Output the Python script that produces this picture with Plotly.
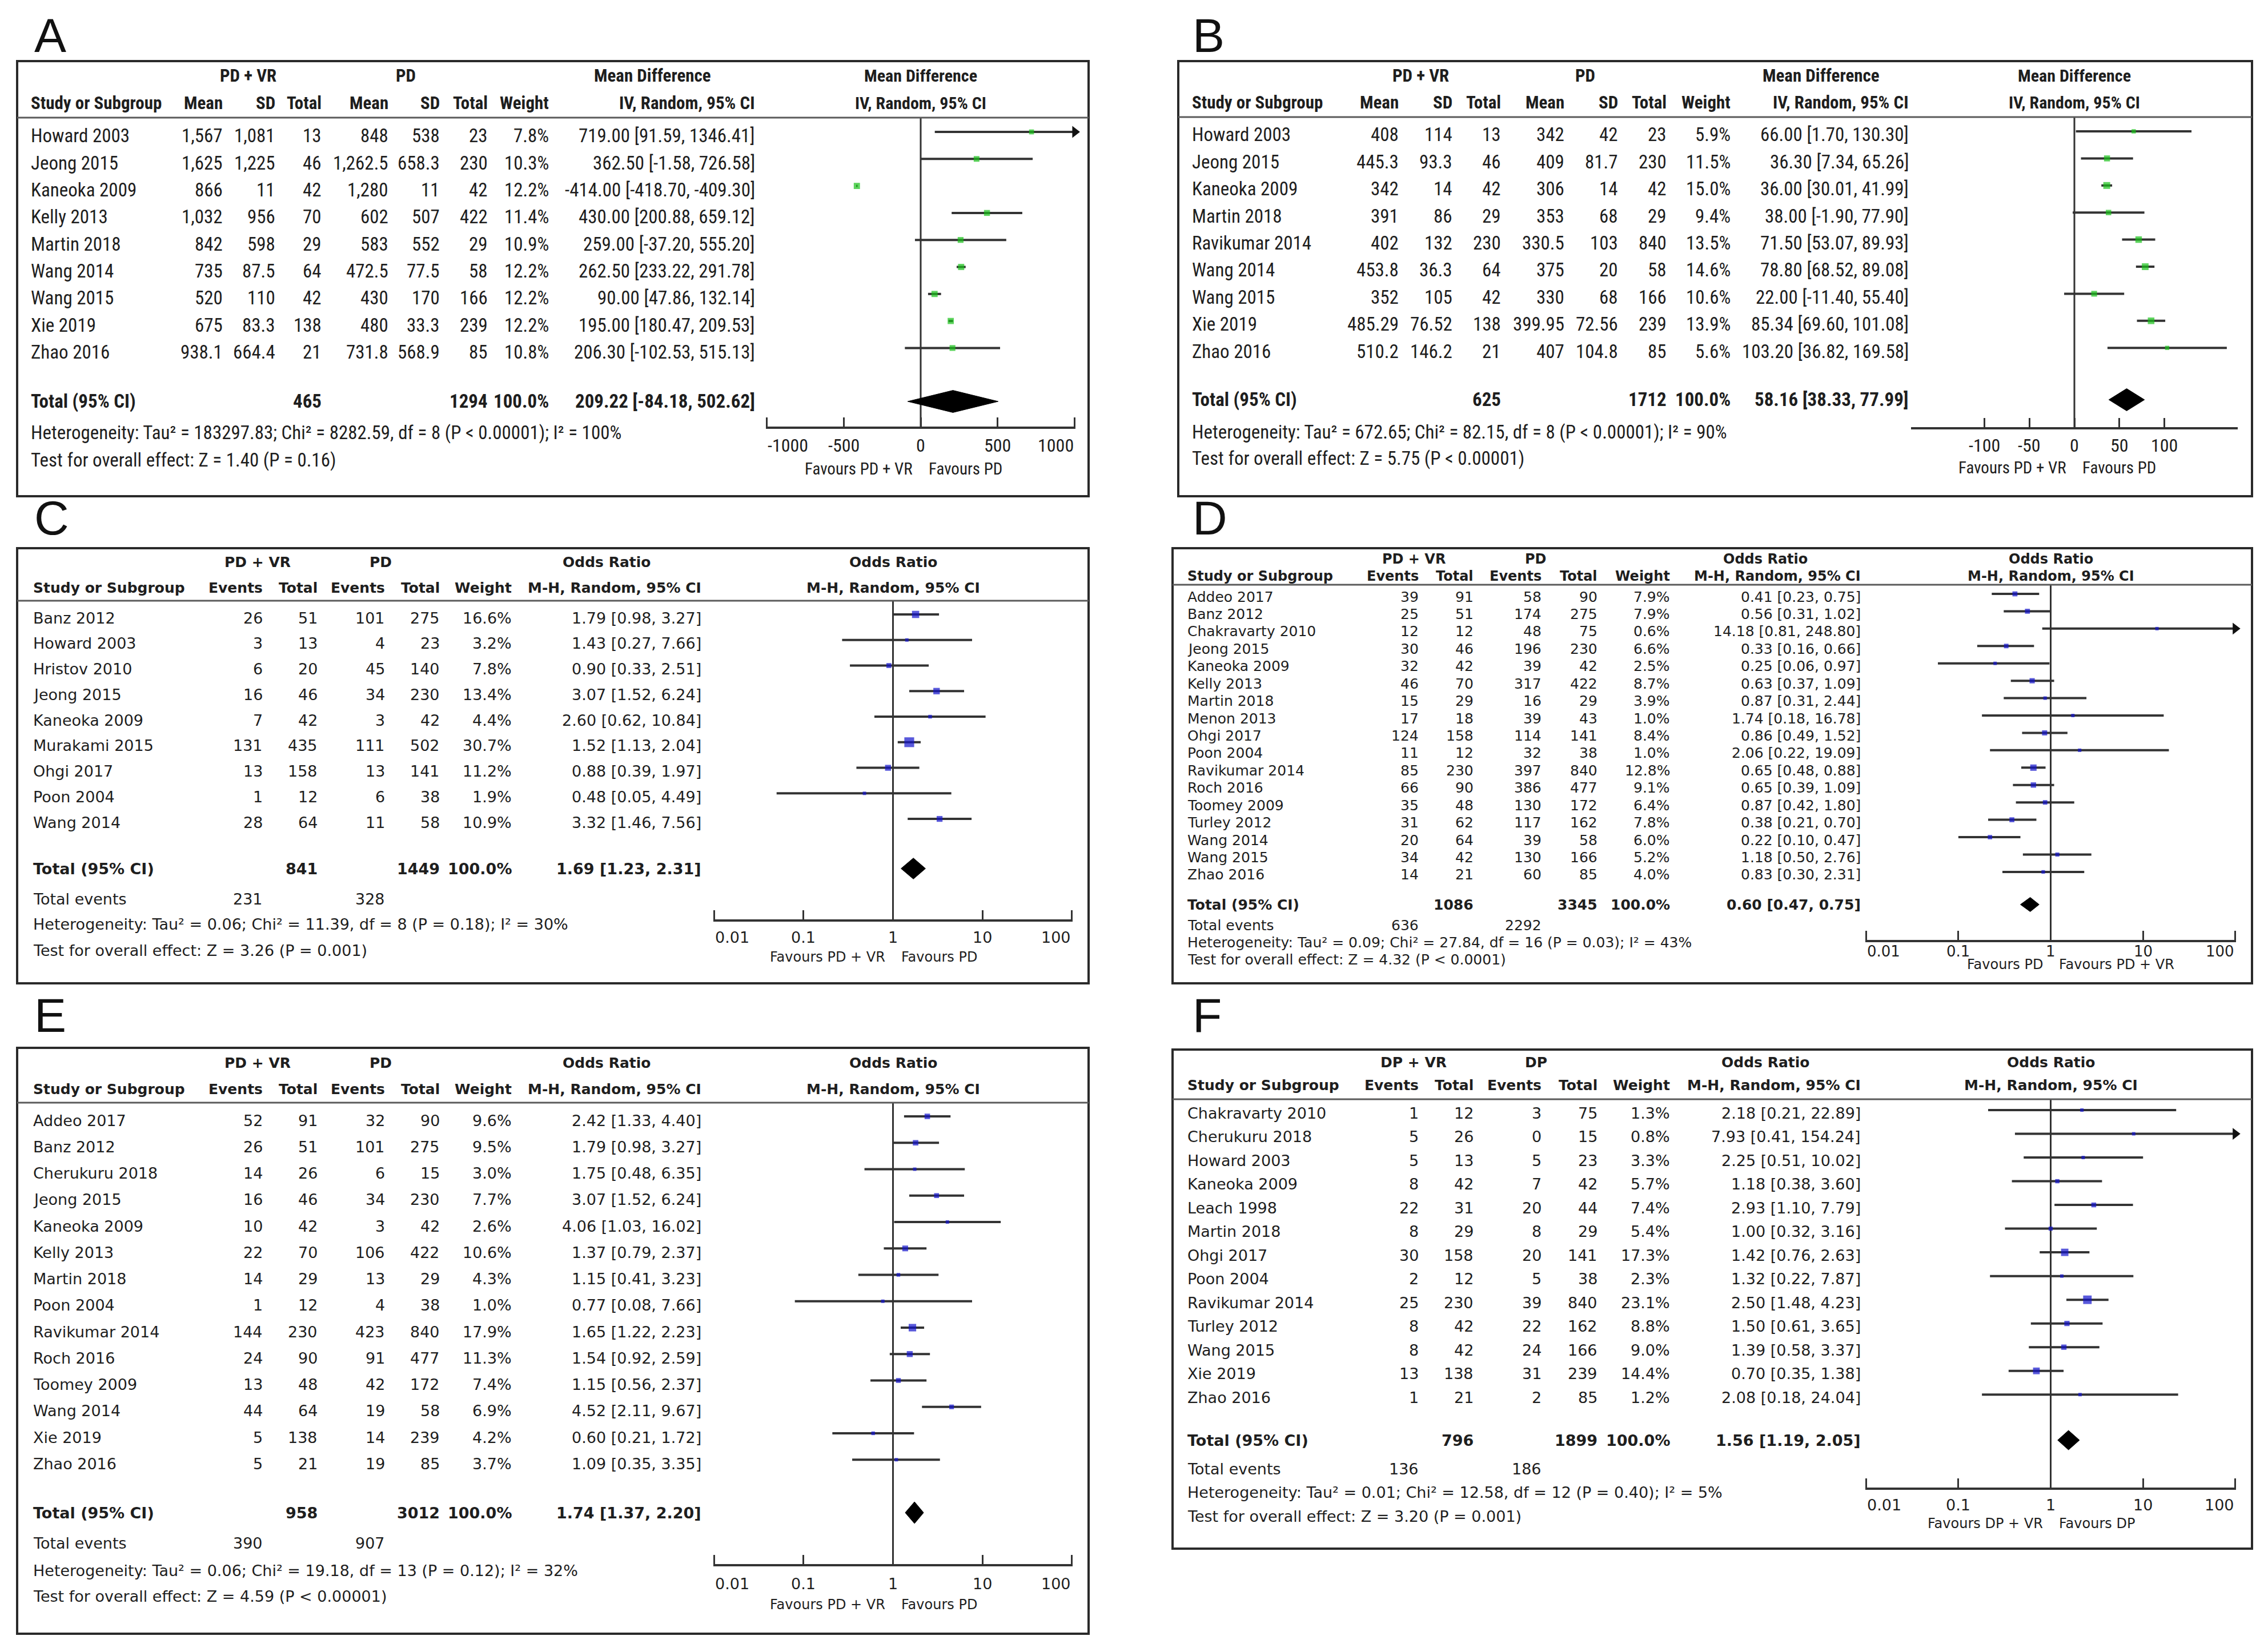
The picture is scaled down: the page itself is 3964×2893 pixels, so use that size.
import math
import plotly.graph_objects as go

W, H = 3964, 2893

# ======================= DATA =======================
# ---- Panel A : Mean Difference, IV random ----
A_study = ["Howard 2003", "Jeong 2015", "Kaneoka 2009", "Kelly 2013", "Martin 2018",
           "Wang 2014", "Wang 2015", "Xie 2019", "Zhao 2016"]
A_exp_mean = [1567, 1625, 866, 1032, 842, 735, 520, 675, 938.1]
A_exp_sd = [1081, 1225, 11, 956, 598, 87.5, 110, 83.3, 664.4]
A_exp_n = [13, 46, 42, 70, 29, 64, 42, 138, 21]
A_ctl_mean = [848, 1262.5, 1280, 602, 583, 472.5, 430, 480, 731.8]
A_ctl_sd = [538, 658.3, 11, 507, 552, 77.5, 170, 33.3, 568.9]
A_ctl_n = [23, 230, 42, 422, 29, 58, 166, 239, 85]
A_weight = [7.8, 10.3, 12.2, 11.4, 10.9, 12.2, 12.2, 12.2, 10.8]
A_est = [719.00, 362.50, -414.00, 430.00, 259.00, 262.50, 90.00, 195.00, 206.30]
A_lo = [91.59, -1.58, -418.70, 200.88, -37.20, 233.22, 47.86, 180.47, -102.53]
A_hi = [1346.41, 726.58, -409.30, 659.12, 555.20, 291.78, 132.14, 209.53, 515.13]
A_total = [209.22, -84.18, 502.62]
A_het = "Heterogeneity: Tau² = 183297.83; Chi² = 8282.59, df = 8 (P < 0.00001); I² = 100%"
A_test = "Test for overall effect: Z = 1.40 (P = 0.16)"
A_groups = ["PD + VR", "PD"]
A_favours = ["Favours PD + VR", "Favours PD"]
A_xrange = [-1000, 1000]
A_ticks = [-1000, -500, 0, 500, 1000]

# ---- Panel B : Mean Difference, IV random ----
B_study = ["Howard 2003", "Jeong 2015", "Kaneoka 2009", "Martin 2018", "Ravikumar 2014",
           "Wang 2014", "Wang 2015", "Xie 2019", "Zhao 2016"]
B_exp_mean = [408, 445.3, 342, 391, 402, 453.8, 352, 485.29, 510.2]
B_exp_sd = [114, 93.3, 14, 86, 132, 36.3, 105, 76.52, 146.2]
B_exp_n = [13, 46, 42, 29, 230, 64, 42, 138, 21]
B_ctl_mean = [342, 409, 306, 353, 330.5, 375, 330, 399.95, 407]
B_ctl_sd = [42, 81.7, 14, 68, 103, 20, 68, 72.56, 104.8]
B_ctl_n = [23, 230, 42, 29, 840, 58, 166, 239, 85]
B_weight = [5.9, 11.5, 15.0, 9.4, 13.5, 14.6, 10.6, 13.9, 5.6]
B_est = [66.00, 36.30, 36.00, 38.00, 71.50, 78.80, 22.00, 85.34, 103.20]
B_lo = [1.70, 7.34, 30.01, -1.90, 53.07, 68.52, -11.40, 69.60, 36.82]
B_hi = [130.30, 65.26, 41.99, 77.90, 89.93, 89.08, 55.40, 101.08, 169.58]
B_total = [58.16, 38.33, 77.99]
B_het = "Heterogeneity: Tau² = 672.65; Chi² = 82.15, df = 8 (P < 0.00001); I² = 90%"
B_test = "Test for overall effect: Z = 5.75 (P < 0.00001)"
B_groups = ["PD + VR", "PD"]
B_favours = ["Favours PD + VR", "Favours PD"]
B_xrange = [-181, 181]
B_ticks = [-100, -50, 0, 50, 100]

# ---- Panel C : Odds Ratio, M-H random ----
C_study = ["Banz 2012", "Howard 2003", "Hristov 2010", "Jeong 2015", "Kaneoka 2009",
           "Murakami 2015", "Ohgi 2017", "Poon 2004", "Wang 2014"]
C_exp_ev = [26, 3, 6, 16, 7, 131, 13, 1, 28]
C_exp_n = [51, 13, 20, 46, 42, 435, 158, 12, 64]
C_ctl_ev = [101, 4, 45, 34, 3, 111, 13, 6, 11]
C_ctl_n = [275, 23, 140, 230, 42, 502, 141, 38, 58]
C_weight = [16.6, 3.2, 7.8, 13.4, 4.4, 30.7, 11.2, 1.9, 10.9]
C_est = [1.79, 1.43, 0.90, 3.07, 2.60, 1.52, 0.88, 0.48, 3.32]
C_lo = [0.98, 0.27, 0.33, 1.52, 0.62, 1.13, 0.39, 0.05, 1.46]
C_hi = [3.27, 7.66, 2.51, 6.24, 10.84, 2.04, 1.97, 4.49, 7.56]
C_total = [1.69, 1.23, 2.31]
C_het = "Heterogeneity: Tau² = 0.06; Chi² = 11.39, df = 8 (P = 0.18); I² = 30%"
C_test = "Test for overall effect: Z = 3.26 (P = 0.001)"
C_groups = ["PD + VR", "PD"]
C_favours = ["Favours PD + VR", "Favours PD"]

# ---- Panel D : Odds Ratio, M-H random ----
D_study = ["Addeo 2017", "Banz 2012", "Chakravarty 2010", "Jeong 2015", "Kaneoka 2009",
           "Kelly 2013", "Martin 2018", "Menon 2013", "Ohgi 2017", "Poon 2004",
           "Ravikumar 2014", "Roch 2016", "Toomey 2009", "Turley 2012", "Wang 2014",
           "Wang 2015", "Zhao 2016"]
D_exp_ev = [39, 25, 12, 30, 32, 46, 15, 17, 124, 11, 85, 66, 35, 31, 20, 34, 14]
D_exp_n = [91, 51, 12, 46, 42, 70, 29, 18, 158, 12, 230, 90, 48, 62, 64, 42, 21]
D_ctl_ev = [58, 174, 48, 196, 39, 317, 16, 39, 114, 32, 397, 386, 130, 117, 39, 130, 60]
D_ctl_n = [90, 275, 75, 230, 42, 422, 29, 43, 141, 38, 840, 477, 172, 162, 58, 166, 85]
D_weight = [7.9, 7.9, 0.6, 6.6, 2.5, 8.7, 3.9, 1.0, 8.4, 1.0, 12.8, 9.1, 6.4, 7.8, 6.0, 5.2, 4.0]
D_est = [0.41, 0.56, 14.18, 0.33, 0.25, 0.63, 0.87, 1.74, 0.86, 2.06, 0.65, 0.65, 0.87,
         0.38, 0.22, 1.18, 0.83]
D_lo = [0.23, 0.31, 0.81, 0.16, 0.06, 0.37, 0.31, 0.18, 0.49, 0.22, 0.48, 0.39, 0.42,
        0.21, 0.10, 0.50, 0.30]
D_hi = [0.75, 1.02, 248.80, 0.66, 0.97, 1.09, 2.44, 16.78, 1.52, 19.09, 0.88, 1.09, 1.80,
        0.70, 0.47, 2.76, 2.31]
D_total = [0.60, 0.47, 0.75]
D_het = "Heterogeneity: Tau² = 0.09; Chi² = 27.84, df = 16 (P = 0.03); I² = 43%"
D_test = "Test for overall effect: Z = 4.32 (P < 0.0001)"
D_groups = ["PD + VR", "PD"]
D_favours = ["Favours PD", "Favours PD + VR"]

# ---- Panel E : Odds Ratio, M-H random ----
E_study = ["Addeo 2017", "Banz 2012", "Cherukuru 2018", "Jeong 2015", "Kaneoka 2009",
           "Kelly 2013", "Martin 2018", "Poon 2004", "Ravikumar 2014", "Roch 2016",
           "Toomey 2009", "Wang 2014", "Xie 2019", "Zhao 2016"]
E_exp_ev = [52, 26, 14, 16, 10, 22, 14, 1, 144, 24, 13, 44, 5, 5]
E_exp_n = [91, 51, 26, 46, 42, 70, 29, 12, 230, 90, 48, 64, 138, 21]
E_ctl_ev = [32, 101, 6, 34, 3, 106, 13, 4, 423, 91, 42, 19, 14, 19]
E_ctl_n = [90, 275, 15, 230, 42, 422, 29, 38, 840, 477, 172, 58, 239, 85]
E_weight = [9.6, 9.5, 3.0, 7.7, 2.6, 10.6, 4.3, 1.0, 17.9, 11.3, 7.4, 6.9, 4.2, 3.7]
E_est = [2.42, 1.79, 1.75, 3.07, 4.06, 1.37, 1.15, 0.77, 1.65, 1.54, 1.15, 4.52, 0.60, 1.09]
E_lo = [1.33, 0.98, 0.48, 1.52, 1.03, 0.79, 0.41, 0.08, 1.22, 0.92, 0.56, 2.11, 0.21, 0.35]
E_hi = [4.40, 3.27, 6.35, 6.24, 16.02, 2.37, 3.23, 7.66, 2.23, 2.59, 2.37, 9.67, 1.72, 3.35]
E_total = [1.74, 1.37, 2.20]
E_het = "Heterogeneity: Tau² = 0.06; Chi² = 19.18, df = 13 (P = 0.12); I² = 32%"
E_test = "Test for overall effect: Z = 4.59 (P < 0.00001)"
E_groups = ["PD + VR", "PD"]
E_favours = ["Favours PD + VR", "Favours PD"]

# ---- Panel F : Odds Ratio, M-H random ----
F_study = ["Chakravarty 2010", "Cherukuru 2018", "Howard 2003", "Kaneoka 2009", "Leach 1998",
           "Martin 2018", "Ohgi 2017", "Poon 2004", "Ravikumar 2014", "Turley 2012",
           "Wang 2015", "Xie 2019", "Zhao 2016"]
F_exp_ev = [1, 5, 5, 8, 22, 8, 30, 2, 25, 8, 8, 13, 1]
F_exp_n = [12, 26, 13, 42, 31, 29, 158, 12, 230, 42, 42, 138, 21]
F_ctl_ev = [3, 0, 5, 7, 20, 8, 20, 5, 39, 22, 24, 31, 2]
F_ctl_n = [75, 15, 23, 42, 44, 29, 141, 38, 840, 162, 166, 239, 85]
F_weight = [1.3, 0.8, 3.3, 5.7, 7.4, 5.4, 17.3, 2.3, 23.1, 8.8, 9.0, 14.4, 1.2]
F_est = [2.18, 7.93, 2.25, 1.18, 2.93, 1.00, 1.42, 1.32, 2.50, 1.50, 1.39, 0.70, 2.08]
F_lo = [0.21, 0.41, 0.51, 0.38, 1.10, 0.32, 0.76, 0.22, 1.48, 0.61, 0.58, 0.35, 0.18]
F_hi = [22.89, 154.24, 10.02, 3.60, 7.79, 3.16, 2.63, 7.87, 4.23, 3.65, 3.37, 1.38, 24.04]
F_total = [1.56, 1.19, 2.05]
F_het = "Heterogeneity: Tau² = 0.01; Chi² = 12.58, df = 12 (P = 0.40); I² = 5%"
F_test = "Test for overall effect: Z = 3.20 (P = 0.001)"
F_groups = ["DP + VR", "DP"]
F_favours = ["Favours DP + VR", "Favours DP"]

OR_xrange = [0.01, 100]
OR_ticks = [0.01, 0.1, 1, 10, 100]

MD_title, MD_method = "Mean Difference", "IV, Random, 95% CI"
OR_title, OR_method = "Odds Ratio", "M-H, Random, 95% CI"
MD_heads = ["Mean", "SD", "Total", "Mean", "SD", "Total", "Weight"]
OR_heads = ["Events", "Total", "Events", "Total", "Weight"]

# ======================= STYLE / GEOMETRY =======================
TXT = "#1e1e1e"
LINE = "#333333"
FRAME = "#2a2a2a"
HLINE = "#5a5a5a"
GREEN = "#19c219"
BLUE = "#1212cc"
COND = "Noto Sans Condensed, Roboto Condensed, Liberation Sans Narrow, Liberation Sans, Arial, sans-serif"
WIDE = "DejaVu Sans, Verdana, sans-serif"
LABEL_FONT = "Liberation Sans, Arial, sans-serif"

ST_AB = dict(tfam=COND, tsz=33, hsz=31, psz=30, ticksz=32, favsz=29, k=3.1, kmin=7)
ST_CE = dict(tfam=WIDE, tsz=27, hsz=25, psz=25, ticksz=27, favsz=24, k=3.1, kmin=6)
ST_D = dict(tfam=WIDE, tsz=25, hsz=24, psz=24, ticksz=26, favsz=24, k=3.1, kmin=6)
ST_F = dict(tfam=WIDE, tsz=27, hsz=25, psz=25, ticksz=27, favsz=24, k=3.1, kmin=6)

G_A = dict(box=(30, 107, 1906, 869), label=(58, 62), hdr1=133, hdr2=181, hline=206,
           row0=238, dy=47.3, study_x=52, cols=[392, 484, 565, 682, 772, 856, 963, 1324],
           grp=[434, 710], est_hdr=1142, axis_x=(1341, 1883), axis_y=749, tick_y=780,
           total=703, events=None, het=758, test=806, fav=821, mk_shift=7)
G_B = dict(box=(2063, 107, 3943, 869), label=(2086, 62), hdr1=133, hdr2=180, hline=205,
           row0=236, dy=47.4, study_x=2085, cols=[2451, 2545, 2630, 2741, 2835, 2920, 3032, 3344],
           grp=[2487, 2775], est_hdr=3188, axis_x=(3346, 3918), axis_y=750, tick_y=780,
           total=700, events=None, het=757, test=803, fav=819, mk_shift=6)
G_C = dict(box=(30, 960, 1906, 1722), label=(58, 907), hdr1=985, hdr2=1029, hline=1052,
           row0=1082, dy=44.76, study_x=56, cols=[462, 558, 676, 772, 898, 1230],
           grp=[451, 666], est_hdr=1062, axis_x=(1249, 1878), axis_y=1612, tick_y=1641,
           total=1521, events=1574, het=1618, test=1664, fav=1676, mk_shift=6)
G_D = dict(box=(2053, 960, 3943, 1722), label=(2086, 907), hdr1=979, hdr2=1009, hline=1024,
           row0=1045, dy=30.43, study_x=2077, cols=[2486, 2582, 2701, 2799, 2926, 3260],
           grp=[2475, 2689], est_hdr=3091, axis_x=(3266, 3915), axis_y=1648, tick_y=1666,
           total=1584, events=1620, het=1650, test=1680, fav=1689, mk_shift=5)
G_E = dict(box=(30, 1835, 1906, 2861), label=(58, 1778), hdr1=1861, hdr2=1907, hline=1931,
           row0=1962, dy=46.25, study_x=56, cols=[462, 558, 676, 772, 898, 1230],
           grp=[451, 666], est_hdr=1062, axis_x=(1249, 1878), axis_y=2741, tick_y=2773,
           total=2649, events=2702, het=2750, test=2795, fav=2810, mk_shift=7)
G_F = dict(box=(2053, 1838, 3943, 2712), label=(2086, 1778), hdr1=1860, hdr2=1900, hline=1925,
           row0=1949, dy=41.52, study_x=2077, cols=[2486, 2582, 2701, 2799, 2926, 3260],
           grp=[2475, 2689], est_hdr=3091, axis_x=(3266, 3915), axis_y=2607, tick_y=2635,
           total=2522, events=2572, het=2613, test=2655, fav=2668, mk_shift=5)

panels = [
    dict(name="A", kind="md", study=A_study,
         cols=[A_exp_mean, A_exp_sd, A_exp_n, A_ctl_mean, A_ctl_sd, A_ctl_n],
         weight=A_weight, est=A_est, lo=A_lo, hi=A_hi, total=A_total, het=A_het, test=A_test,
         groups=A_groups, favours=A_favours, xrange=A_xrange, ticks=A_ticks, log=False,
         color=GREEN, geom=G_A, style=ST_AB),
    dict(name="B", kind="md", study=B_study,
         cols=[B_exp_mean, B_exp_sd, B_exp_n, B_ctl_mean, B_ctl_sd, B_ctl_n],
         weight=B_weight, est=B_est, lo=B_lo, hi=B_hi, total=B_total, het=B_het, test=B_test,
         groups=B_groups, favours=B_favours, xrange=B_xrange, ticks=B_ticks, log=False,
         color=GREEN, geom=G_B, style=ST_AB),
    dict(name="C", kind="or", study=C_study, cols=[C_exp_ev, C_exp_n, C_ctl_ev, C_ctl_n],
         weight=C_weight, est=C_est, lo=C_lo, hi=C_hi, total=C_total, het=C_het, test=C_test,
         groups=C_groups, favours=C_favours, xrange=OR_xrange, ticks=OR_ticks, log=True,
         color=BLUE, geom=G_C, style=ST_CE),
    dict(name="D", kind="or", study=D_study, cols=[D_exp_ev, D_exp_n, D_ctl_ev, D_ctl_n],
         weight=D_weight, est=D_est, lo=D_lo, hi=D_hi, total=D_total, het=D_het, test=D_test,
         groups=D_groups, favours=D_favours, xrange=OR_xrange, ticks=OR_ticks, log=True,
         color=BLUE, geom=G_D, style=ST_D),
    dict(name="E", kind="or", study=E_study, cols=[E_exp_ev, E_exp_n, E_ctl_ev, E_ctl_n],
         weight=E_weight, est=E_est, lo=E_lo, hi=E_hi, total=E_total, het=E_het, test=E_test,
         groups=E_groups, favours=E_favours, xrange=OR_xrange, ticks=OR_ticks, log=True,
         color=BLUE, geom=G_E, style=ST_CE),
    dict(name="F", kind="or", study=F_study, cols=[F_exp_ev, F_exp_n, F_ctl_ev, F_ctl_n],
         weight=F_weight, est=F_est, lo=F_lo, hi=F_hi, total=F_total, het=F_het, test=F_test,
         groups=F_groups, favours=F_favours, xrange=OR_xrange, ticks=OR_ticks, log=True,
         color=BLUE, geom=G_F, style=ST_F),
]


def X(px):
    return px / W


def Y(py):
    return 1 - py / H


def num(v):
    return f"{v:,}"


def ci(e, l, h):
    return f"{e:.2f} [{l:.2f}, {h:.2f}]"


fig = go.Figure()
ann, shapes, axes = [], [], {}


def T(text, x, y, xref, yref, anchor, family, size, bold=False, xshift=0):
    ann.append(dict(text=f"<b>{text}</b>" if bold else text, x=x, y=y, xref=xref, yref=yref,
                    xanchor=anchor, yanchor="middle", showarrow=False, xshift=xshift,
                    font=dict(family=family, size=size, color=TXT)))


for k, P in enumerate(panels, start=1):
    G, S = P["geom"], P["style"]
    xa, ya = f"x{k}", f"y{k}"
    xkey = "xaxis" if k == 1 else f"xaxis{k}"
    ykey = "yaxis" if k == 1 else f"yaxis{k}"
    bx0, by0, bx1, by1 = G["box"]
    row0, dy = G["row0"], G["dy"]

    def r(py, row0=row0, dy=dy):
        return (py - row0) / dy

    n = len(P["study"])
    log = P["log"]
    xmin, xmax = P["xrange"]
    nullv = 1 if log else 0
    tfam, tsz, hsz = S["tfam"], S["tsz"], S["hsz"]

    # ---- axes ----
    axes[ykey] = dict(domain=[Y(by1), Y(by0)], range=[r(by1), r(by0)], visible=False,
                      anchor=xa, fixedrange=True)
    rng = [math.log10(xmin), math.log10(xmax)] if log else [xmin, xmax]
    pad = (rng[1] - rng[0]) * 0.002
    axes[xkey] = dict(domain=[X(G["axis_x"][0]), X(G["axis_x"][1])],
                      range=[rng[0] - pad, rng[1] + pad], type="log" if log else "linear",
                      anchor="free", position=Y(G["axis_y"]), showline=True, linecolor=LINE,
                      linewidth=4, ticks="inside", ticklen=16, tickwidth=3, tickcolor=LINE,
                      tickmode="array", tickvals=P["ticks"], showticklabels=False,
                      showgrid=False, zeroline=False, fixedrange=True)
    # tick labels, placed on the axis scale (ends aligned inward as in RevMan)
    for t in P["ticks"]:
        xv = math.log10(t) if log else t
        anc = "left" if t == xmin else ("right" if t == xmax else "center")
        T(f"{t:g}", xv, Y(G["tick_y"]), xa, "paper", anc, tfam, S["ticksz"])

    # ---- frame, header rule, panel letter ----
    shapes.append(dict(type="rect", xref="paper", yref="paper", x0=X(bx0), x1=X(bx1),
                       y0=Y(by1), y1=Y(by0), line=dict(color=FRAME, width=4)))
    shapes.append(dict(type="line", xref="paper", yref="paper", x0=X(bx0), x1=X(bx1),
                       y0=Y(G["hline"]), y1=Y(G["hline"]), line=dict(color=HLINE, width=3)))
    ann.append(dict(text=P["name"], x=X(G["label"][0]), y=Y(G["label"][1]), xref="paper",
                    yref="paper", xanchor="left", yanchor="middle", showarrow=False,
                    font=dict(family=LABEL_FONT, size=84, color="#111111")))

    # ---- table headers ----
    title, method = (MD_title, MD_method) if P["kind"] == "md" else (OR_title, OR_method)
    heads = MD_heads if P["kind"] == "md" else OR_heads
    cx = G["cols"]
    T(P["groups"][0], X(G["grp"][0]), r(G["hdr1"]), "paper", ya, "center", tfam, hsz, True)
    T(P["groups"][1], X(G["grp"][1]), r(G["hdr1"]), "paper", ya, "center", tfam, hsz, True)
    T(title, X(G["est_hdr"]), r(G["hdr1"]), "paper", ya, "center", tfam, hsz, True)
    T("Study or Subgroup", X(G["study_x"]), r(G["hdr2"]), "paper", ya, "left", tfam, hsz, True)
    for lab, x in zip(heads + [method], cx):
        T(lab, X(x), r(G["hdr2"]), "paper", ya, "right", tfam, hsz, True)
    # plot-side headers
    pc = X((G["axis_x"][0] + G["axis_x"][1]) / 2)
    T(title, pc, r(G["hdr1"]), "paper", ya, "center", tfam, S["psz"], True)
    T(method, pc, r(G["hdr2"]), "paper", ya, "center", tfam, S["psz"], True)

    # ---- study rows ----
    for i in range(n):
        T(P["study"][i], X(G["study_x"]), i, "paper", ya, "left", tfam, tsz)
        vals = [num(c[i]) for c in P["cols"]]
        vals += [f"{P['weight'][i]:.1f}%", ci(P["est"][i], P["lo"][i], P["hi"][i])]
        for s, x in zip(vals, cx):
            T(s, X(x), i, "paper", ya, "right", tfam, tsz)

    # ---- total rows ----
    rt = r(G["total"])
    T("Total (95% CI)", X(G["study_x"]), rt, "paper", ya, "left", tfam, tsz, True)
    if P["kind"] == "md":
        T(str(sum(P["cols"][2])), X(cx[2]), rt, "paper", ya, "right", tfam, tsz, True)
        T(str(sum(P["cols"][5])), X(cx[5]), rt, "paper", ya, "right", tfam, tsz, True)
    else:
        T(str(sum(P["cols"][1])), X(cx[1]), rt, "paper", ya, "right", tfam, tsz, True)
        T(str(sum(P["cols"][3])), X(cx[3]), rt, "paper", ya, "right", tfam, tsz, True)
        re_ = r(G["events"])
        T("Total events", X(G["study_x"]), re_, "paper", ya, "left", tfam, tsz)
        T(str(sum(P["cols"][0])), X(cx[0]), re_, "paper", ya, "right", tfam, tsz)
        T(str(sum(P["cols"][2])), X(cx[2]), re_, "paper", ya, "right", tfam, tsz)
    T("100.0%", X(cx[-2]), rt, "paper", ya, "right", tfam, tsz, True)
    T(ci(*P["total"]), X(cx[-1]), rt, "paper", ya, "right", tfam, tsz, True)
    T(P["het"], X(G["study_x"]), r(G["het"]), "paper", ya, "left", tfam, tsz)
    T(P["test"], X(G["study_x"]), r(G["test"]), "paper", ya, "left", tfam, tsz)

    # favours labels
    T(P["favours"][0], 0, Y(G["fav"]), xa, "paper", "right", tfam, S["favsz"], xshift=-12)
    T(P["favours"][1], 0, Y(G["fav"]), xa, "paper", "left", tfam, S["favsz"], xshift=12)

    # ---- forest marks ----
    ym = [i - G["mk_shift"] / dy for i in range(n)]
    common = dict(xaxis=xa, yaxis=ya, hoverinfo="skip", showlegend=False, cliponaxis=False)
    fig.add_trace(go.Scatter(x=[nullv, nullv], y=[r(G["hline"]), r(G["axis_y"])], mode="lines",
                             line=dict(color=LINE, width=3), **common))
    lx, ly = [], []
    for i in range(n):
        lx += [max(P["lo"][i], xmin), min(P["hi"][i], xmax), None]
        ly += [ym[i], ym[i], None]
    fig.add_trace(go.Scatter(x=lx, y=ly, mode="lines", line=dict(color=LINE, width=4), **common))
    arx, ary, ars = [], [], []
    for i in range(n):
        if P["hi"][i] > xmax:
            arx.append(xmax); ary.append(ym[i]); ars.append("triangle-right")
        if P["lo"][i] < xmin:
            arx.append(xmin); ary.append(ym[i]); ars.append("triangle-left")
    if arx:
        fig.add_trace(go.Scatter(x=arx, y=ary, mode="markers",
                                 marker=dict(symbol=ars, size=18, color="#111111"), **common))
    sizes = [max(S["kmin"], S["k"] * math.sqrt(w)) for w in P["weight"]]
    fig.add_trace(go.Scatter(x=P["est"], y=ym, mode="markers",
                             marker=dict(symbol="square", size=sizes, color=P["color"],
                                         line=dict(width=0)), **common))
    e, l, h = P["total"]
    hh = 0.41
    fig.add_trace(go.Scatter(x=[l, e, h, e, l], y=[rt, rt - hh, rt, rt + hh, rt], mode="lines",
                             fill="toself", fillcolor="#000000",
                             line=dict(color="#000000", width=1), **common))

fig.update_layout(width=W, height=H, margin=dict(l=0, r=0, t=0, b=0),
                  paper_bgcolor="white", plot_bgcolor="rgba(0,0,0,0)", showlegend=False,
                  annotations=ann, shapes=shapes, **axes)
fig.write_html("out.html", config={"displayModeBar": False},
               post_script="document.body.style.margin='0';"
                           "document.body.style.overflow='hidden';"
                           "document.documentElement.style.overflow='hidden';")
